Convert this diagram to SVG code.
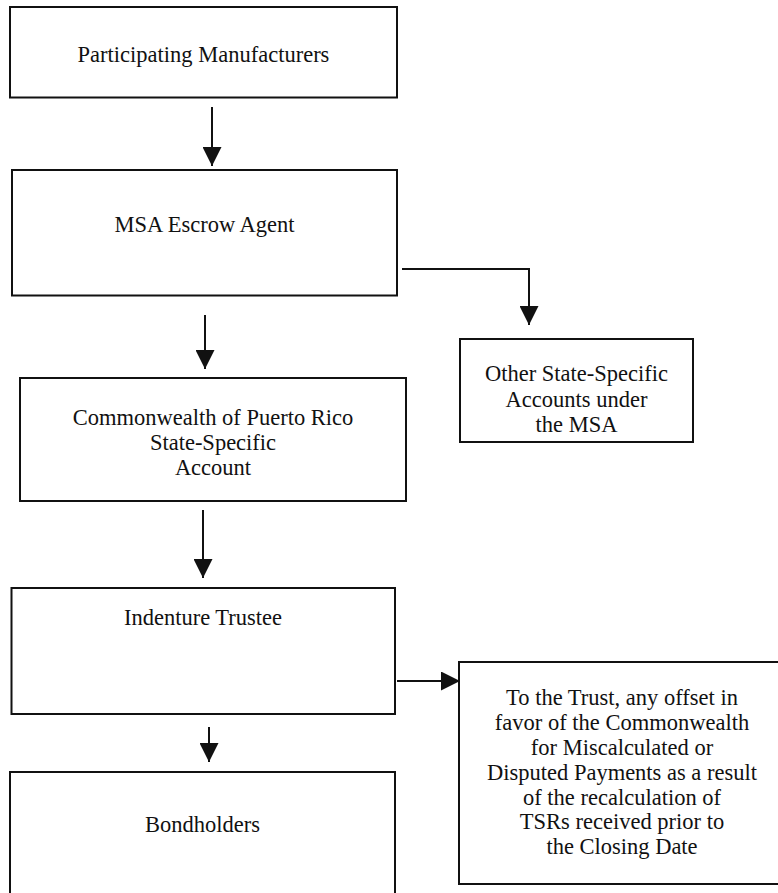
<svg xmlns="http://www.w3.org/2000/svg" width="778" height="893" viewBox="0 0 778 893">
<style>
.box{fill:#fff;stroke:#111;stroke-width:2}
.t{font-family:"Liberation Serif","Times New Roman",serif;font-size:22.5px;fill:#111;text-anchor:middle}
.c{fill:none;stroke:#111;stroke-width:2}
</style>
<defs>
<marker id="ah" markerUnits="userSpaceOnUse" markerWidth="19" markerHeight="19" refX="19" refY="9.5" orient="auto" viewBox="0 0 19 19">
<path d="M0,0 L19,9.5 L0,19 Z" fill="#111"/>
</marker>
</defs>
<rect width="778" height="893" fill="#fff"/>
<g id="connectors">
<line class="c" x1="212" y1="107" x2="212" y2="166" marker-end="url(#ah)"/>
<polyline class="c" points="402,269 529,269 529,325" marker-end="url(#ah)"/>
<line class="c" x1="205" y1="315" x2="205" y2="369" marker-end="url(#ah)"/>
<line class="c" x1="203" y1="510" x2="203" y2="578" marker-end="url(#ah)"/>
<line class="c" x1="397" y1="681" x2="460" y2="681" marker-end="url(#ah)"/>
<line class="c" x1="209" y1="727" x2="209" y2="762" marker-end="url(#ah)"/>
</g>
<g id="participating">
<rect class="box" x="10" y="7" width="387" height="90.5"/>
<text class="t" x="203.5" y="62">Participating Manufacturers</text>
</g>
<g id="msa-escrow">
<rect class="box" x="12" y="170" width="385" height="125.5"/>
<text class="t" x="204.5" y="232">MSA Escrow Agent</text>
</g>
<g id="other-accounts">
<rect class="box" x="460" y="339" width="233" height="103"/>
<text class="t" x="576.5" y="381">Other State-Specific</text>
<text class="t" x="576.5" y="407">Accounts under</text>
<text class="t" x="576.5" y="432">the MSA</text>
</g>
<g id="commonwealth">
<rect class="box" x="20" y="378" width="386" height="123"/>
<text class="t" x="213" y="425">Commonwealth of Puerto Rico</text>
<text class="t" x="213" y="450">State-Specific</text>
<text class="t" x="213" y="475">Account</text>
</g>
<g id="indenture">
<rect class="box" x="11.5" y="588" width="383.5" height="126"/>
<text class="t" x="203" y="625">Indenture Trustee</text>
</g>
<g id="trust">
<rect class="box" x="459" y="662" width="328" height="222"/>
<text class="t" x="622" y="705">To the Trust, any offset in</text>
<text class="t" x="622" y="730">favor of the Commonwealth</text>
<text class="t" x="622" y="755">for Miscalculated or</text>
<text class="t" x="622" y="780">Disputed Payments as a result</text>
<text class="t" x="622" y="805">of the recalculation of</text>
<text class="t" x="622" y="829">TSRs received prior to</text>
<text class="t" x="622" y="854">the Closing Date</text>
</g>
<g id="bondholders">
<rect class="box" x="10" y="772" width="385" height="140"/>
<text class="t" x="202.5" y="832">Bondholders</text>
</g>
</svg>
